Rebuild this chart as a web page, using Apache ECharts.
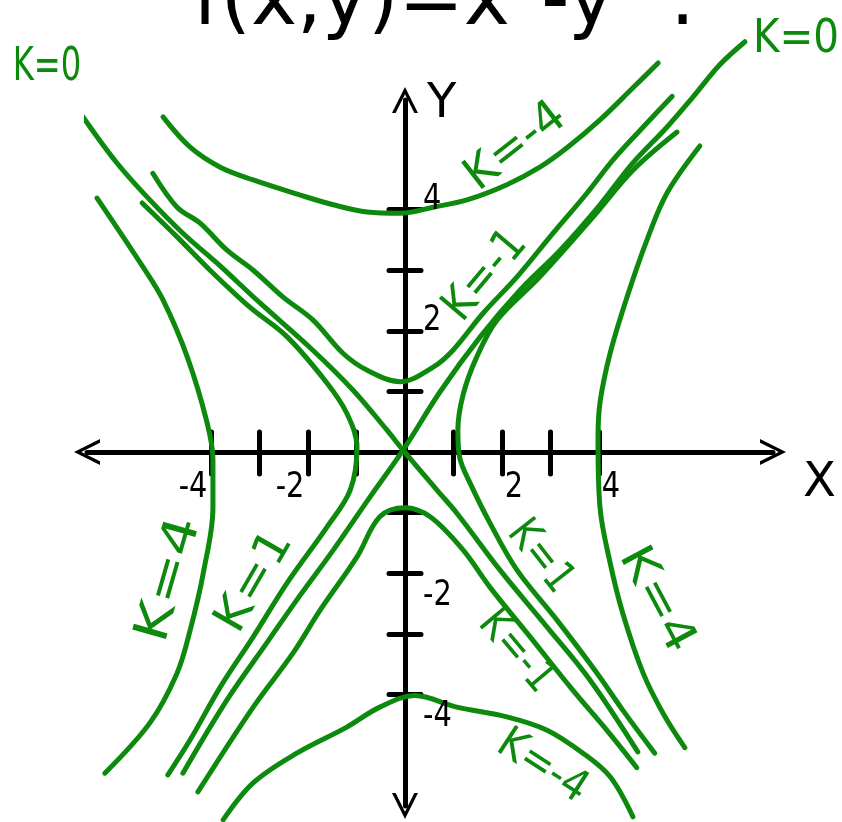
<!DOCTYPE html>
<html><head><meta charset="utf-8">
<script src="https://cdn.jsdelivr.net/npm/echarts@6/dist/echarts.min.js"></script>
<style>html,body{margin:0;padding:0;background:#fff}#c{width:842px;height:822px}</style>
</head><body><div id="c"></div>
<script>
// tick values and labels
const xTickValues = [-4, -3, -2, -1, 1, 2, 3, 4];
const xLabelValues = [-4, -2, 2, 4];
const yTickValues = [-4, -3, -2, -1, 1, 2, 3, 4];
const yLabelValues = [-4, -2, 2, 4];

// level curves x^2 - y^2 = k
const k0Falling = [[-6.99,5.94],[-6.49,5.36],[-5.94,4.77],[-5.32,4.21],[-4.58,3.61],[-3.88,3.12],[-2.99,2.46],[-1.90,1.68],[-1.07,1.02],[-0.37,0.36],[-0.04,0.03],[0.66,-0.63],[1.07,-1.01],[1.96,-1.95],[2.93,-2.89],[3.81,-3.76],[4.80,-4.95]];
const k0Rising = [[-4.58,-5.30],[-3.67,-4.09],[-2.85,-3.15],[-2.23,-2.44],[-1.48,-1.62],[-0.72,-0.74],[-0.04,0.03],[0.72,0.99],[1.55,1.90],[2.37,2.67],[3.20,3.33],[4.02,4.08],[4.70,4.77],[5.40,5.36],[5.94,5.86],[6.49,6.39],[7.01,6.77]];
const k1Left = [[-5.42,4.11],[-4.70,3.55],[-4.02,3.00],[-3.20,2.39],[-2.43,1.90],[-1.61,1.14],[-1.20,0.64],[-0.99,0.08],[-1.13,-0.63],[-1.61,-1.24],[-2.43,-2.16],[-3.13,-3.05],[-3.81,-3.88],[-4.43,-4.75],[-4.89,-5.33]];
const k1Right = [[5.61,5.28],[4.70,4.65],[3.88,3.88],[2.78,2.89],[1.90,2.18],[1.48,1.57],[1.20,0.95],[1.09,0.36],[1.13,-0.10],[1.34,-0.51],[1.75,-1.17],[2.31,-1.95],[3.13,-2.77],[3.96,-3.65],[4.49,-4.26],[5.15,-4.97]];
const km1Upper = [[-5.20,4.60],[-4.70,4.04],[-4.23,3.78],[-3.67,3.33],[-3.13,3.00],[-2.52,2.56],[-1.90,2.18],[-1.28,1.63],[-0.78,1.35],[-0.10,1.16],[0.58,1.40],[0.99,1.68],[1.61,2.29],[2.31,2.89],[2.99,3.55],[3.75,4.27],[4.29,4.82],[4.85,5.31],[5.51,5.87]];
const km1Lower = [[-4.27,-5.61],[-3.13,-4.21],[-2.31,-3.32],[-1.75,-2.61],[-0.99,-1.73],[-0.52,-1.07],[0.00,-0.92],[0.52,-1.07],[1.20,-1.62],[1.75,-2.23],[2.58,-3.05],[3.46,-3.93],[4.16,-4.59],[4.78,-5.21]];
const k4Left = [[-6.35,4.19],[-5.40,3.05],[-4.99,2.51],[-4.49,1.57],[-4.08,0.48],[-3.96,-0.13],[-3.96,-0.91],[-4.16,-2.00],[-4.43,-2.94],[-4.70,-3.65],[-5.26,-4.47],[-6.19,-5.30]];
const k4Right = [[6.08,5.05],[5.40,4.27],[4.99,3.50],[4.58,2.56],[4.23,1.63],[4.02,0.81],[3.98,0.20],[4.02,-0.91],[4.23,-1.83],[4.49,-2.66],[4.91,-3.65],[5.32,-4.31],[5.77,-4.88]];
const km4Upper = [[-4.99,5.53],[-4.43,5.03],[-3.81,4.70],[-3.13,4.49],[-2.16,4.24],[-1.48,4.08],[-0.78,3.96],[-0.10,3.94],[0.58,4.04],[1.28,4.16],[2.10,4.41],[2.78,4.70],[3.34,5.02],[4.02,5.48],[4.70,6.01],[5.22,6.42]];
const km4Lower = [[-3.75,-6.07],[-3.13,-5.46],[-2.23,-4.97],[-1.20,-4.54],[-0.52,-4.21],[0.20,-4.02],[1.07,-4.21],[2.10,-4.37],[2.93,-4.59],[3.67,-4.97],[4.23,-5.36],[4.70,-6.02]];

const curveNames = ['k=0','k=0','k=1','k=1','k=-1','k=-1','k=4','k=4','k=-4','k=-4'];
const curves = [k0Falling, k0Rising, k1Left, k1Right, km1Upper, km1Lower, k4Left, k4Right, km4Upper, km4Lower];

const GREEN = '#0d8a0d';
const FONT = '"DejaVu Sans", "Liberation Sans", sans-serif';
const chevron = 'path://M0,100 L50,0 L100,100 L86,100 L50,28 L14,100 Z';

const chart = echarts.init(document.getElementById('c'), null, {renderer: 'canvas'});

const xRange = {min: -6.557, max: 7.588};
const yRange = {min: -5.842, max: 5.809};

function lbl(text, x, y, deg, size, sx) {
  return {type: 'text', x: x, y: y, rotation: deg * Math.PI / 180, scaleX: sx, z: 10,
    style: {text: text, fill: GREEN, font: size + 'px ' + FONT, align: 'center', verticalAlign: 'middle'}};
}
const tickStyle = {color: '#000', width: 5, cap: 'round'};

const option = {
  animation: false,
  backgroundColor: '#fff',
  title: {
    text: 'f(x,y)=x²-y² .',
    left: 188, top: -40,
    textStyle: {fontSize: 78, fontWeight: 'normal', color: '#000', fontFamily: FONT}
  },
  grid: {left: 87, right: 69, top: 100, bottom: 16, containLabel: false, outerBoundsMode: 'none'},
  xAxis: [
    {type: 'value', ...xRange, position: 'bottom',
     name: 'X', nameLocation: 'end', nameGap: 30,
     nameTextStyle: {fontSize: 48, color: '#000', fontFamily: FONT, align: 'left', verticalAlign: 'top', padding: [8, 0, 0, 0]},
     axisLine: {onZero: true, symbol: [chevron, chevron], symbolSize: [36, 26], lineStyle: {color: '#000', width: 5, cap: 'round'}},
     axisTick: {show: true, customValues: xTickValues, length: 22, lineStyle: tickStyle},
     axisLabel: {show: false},
     splitLine: {show: false}},
    {type: 'value', ...xRange, position: 'top',
     axisLine: {show: false, onZero: true},
     axisTick: {show: true, customValues: xTickValues, length: 20, lineStyle: tickStyle},
     axisLabel: {show: false},
     splitLine: {show: false}}
  ],
  yAxis: [
    {type: 'value', ...yRange, position: 'left',
     name: 'Y', nameLocation: 'end', nameGap: -5,
     nameTextStyle: {fontSize: 48, color: '#000', fontFamily: FONT, align: 'left', verticalAlign: 'middle', padding: [0, 0, 0, 22]},
     axisLine: {onZero: true, symbol: [chevron, chevron], symbolSize: [36, 26], lineStyle: {color: '#000', width: 5, cap: 'round'}},
     axisTick: {show: true, customValues: yTickValues, length: 16, lineStyle: tickStyle},
     axisLabel: {show: false},
     splitLine: {show: false}},
    {type: 'value', ...yRange, position: 'right',
     axisLine: {show: false, onZero: true},
     axisTick: {show: true, customValues: yTickValues, length: 16, lineStyle: tickStyle},
     axisLabel: {show: false},
     splitLine: {show: false}}
  ],
  series: curves.map((d, i) => ({
    name: curveNames[i], type: 'line', xAxisIndex: 0, yAxisIndex: 0,
    data: d, smooth: 0.35, showSymbol: false, clip: false, z: 5,
    lineStyle: {color: GREEN, width: 5, cap: 'round', join: 'round'}
  }))
};
chart.setOption(option);

// tick labels placed through the chart's own scales
const labelGraphics = [];
xLabelValues.forEach(v => {
  const p = chart.convertToPixel({xAxisIndex: 0, yAxisIndex: 0}, [v, 0]);
  labelGraphics.push({type: 'text', x: p[0] + (v < 0 ? -18 : 12), y: p[1] + 36, scaleX: 0.8, z: 10,
    style: {text: String(v), fill: '#000', font: '36px ' + FONT, align: 'center', verticalAlign: 'middle'}});
});
yLabelValues.forEach(v => {
  const p = chart.convertToPixel({xAxisIndex: 0, yAxisIndex: 0}, [0, v]);
  labelGraphics.push({type: 'text', x: p[0] + 18, y: p[1] + (v > 0 ? -10 : 22), scaleX: 0.8, z: 10,
    style: {text: String(v), fill: '#000', font: '36px ' + FONT, align: 'left', verticalAlign: 'middle'}});
});
const curveLabels = [
  lbl('K=0', 47, 68, 0, 46, 0.7),
  lbl('K=0', 796, 40, 0, 46, 0.88),
  lbl('K=-4', 516, 147, 38, 46, 1.0),
  lbl('K=-1', 486, 276, 50, 46, 0.9),
  lbl('K=4', 170, 580, 74, 48, 1.25),
  lbl('K=1', 255, 582, 60, 46, 1.12),
  lbl('K=1', 540, 557, -52, 44, 0.85),
  lbl('K=4', 656, 600, -62, 46, 1.15),
  lbl('K=-1', 516, 652, -50, 44, 0.85),
  lbl('K=-4', 542, 767, -33, 44, 0.9)
];
chart.setOption({graphic: labelGraphics.concat(curveLabels)});
</script>
</body></html>
